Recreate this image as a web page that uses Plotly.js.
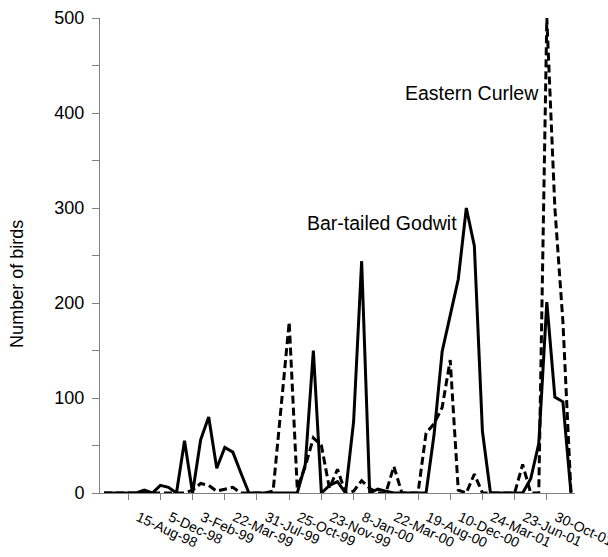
<!DOCTYPE html>
<html>
<head>
<meta charset="utf-8">
<script src="https://cdn.plot.ly/plotly-3.0.1.min.js"></script>
<style>html,body{margin:0;padding:0;background:#fff;}#chart{width:608px;height:557px;}</style>
</head>
<body>
<div id="chart"></div>
<script>
// Bar-tailed Godwit counts (solid line), one value per survey date
var godwit = [0,0,0,0,0,3,0,8,6,0,
              55,0,56,80,26,48,43,21,0,0,
              0,0,0,0,0,30,150,0,8,12,
              0,75,244,0,4,2,0,0,0,0,
              0,62,149,187,225,300,260,65,0,0,
              0,0,0,15,52,201,101,96,0];
// Eastern Curlew counts (dashed line)
var curlew = [0,0,0,0,0,0,0,0,0,0,
              0,3,10,8,2,4,6,0,0,0,
              0,2,90,180,5,28,58,50,5,25,
              0,2,13,5,0,0,28,0,0,0,
              63,73,90,140,3,0,20,0,0,0,
              0,0,30,0,0,500,300,180,0];
// labelled survey dates and their positions among the surveys
var tickPositions = [3,7,11,15,19,23,27,31,35,39,43,47,51,55];
var tickLabels = ['15-Aug-98','5-Dec-98','3-Feb-99','22-Mar-99','31-Jul-99','25-Oct-99',
                  '23-Nov-99','8-Jan-00','22-Mar-00','19-Aug-00','10-Dec-00','24-Mar-01',
                  '23-Jun-01','30-Oct-01'];
var yTickValues = [0,50,100,150,200,250,300,350,400,450,500];
var yTickLabels = ['0','','100','','200','','300','','400','','500'];
var seriesNames = ['Bar-tailed Godwit','Eastern Curlew'];

var survey = godwit.map(function(_, i){ return i; });
var font = 'Arial, "Liberation Sans", sans-serif';

var traces = [
  {x: survey, y: godwit, name: seriesNames[0], type: 'scatter', mode: 'lines',
   line: {color: '#000', width: 3}},
  {x: survey, y: curlew, name: seriesNames[1], type: 'scatter', mode: 'lines',
   line: {color: '#000', width: 3, dash: '8px,4px'}}
];

var layout = {
  width: 608, height: 557,
  margin: {l: 100, r: 33, t: 18, b: 64},
  paper_bgcolor: '#fff', plot_bgcolor: '#fff',
  showlegend: false,
  font: {family: font, color: '#000'},
  xaxis: {
    range: [-0.5, 58.5], showgrid: false, zeroline: false,
    showline: true, linecolor: '#808080', linewidth: 1,
    ticks: 'outside', ticklen: 6, tickcolor: '#808080', tickwidth: 1,
    tickvals: tickPositions, ticktext: tickLabels, tickangle: 25,
    ticklabelshift: 10, ticklabelstandoff: 4, ticklabeloverflow: 'allow',
    tickfont: {family: font, size: 14, color: '#000'}
  },
  yaxis: {
    range: [0, 500], showgrid: false, zeroline: false,
    showline: true, linecolor: '#808080', linewidth: 1,
    ticks: 'outside', ticklen: 7, tickcolor: '#808080', tickwidth: 1,
    ticklabelstandoff: 4,
    tickvals: yTickValues, ticktext: yTickLabels,
    tickfont: {family: font, size: 18, color: '#000'}
  },
  annotations: [
    {text: 'Number of birds', xref: 'paper', yref: 'paper', x: -0.175, y: 0.44,
     textangle: -90, showarrow: false, xanchor: 'center', yanchor: 'middle',
     font: {family: font, size: 18, color: '#000'}},
    {text: seriesNames[1], xref: 'paper', yref: 'paper', x: 0.928, y: 0.843,
     showarrow: false, xanchor: 'right', yanchor: 'middle',
     font: {family: font, size: 19.5, color: '#000'}},
    {text: seriesNames[0], xref: 'paper', yref: 'paper', x: 0.756, y: 0.568,
     showarrow: false, xanchor: 'right', yanchor: 'middle',
     font: {family: font, size: 19.5, color: '#000'}}
  ]
};

Plotly.newPlot('chart', traces, layout, {displayModeBar: false, staticPlot: true});
</script>
</body>
</html>
